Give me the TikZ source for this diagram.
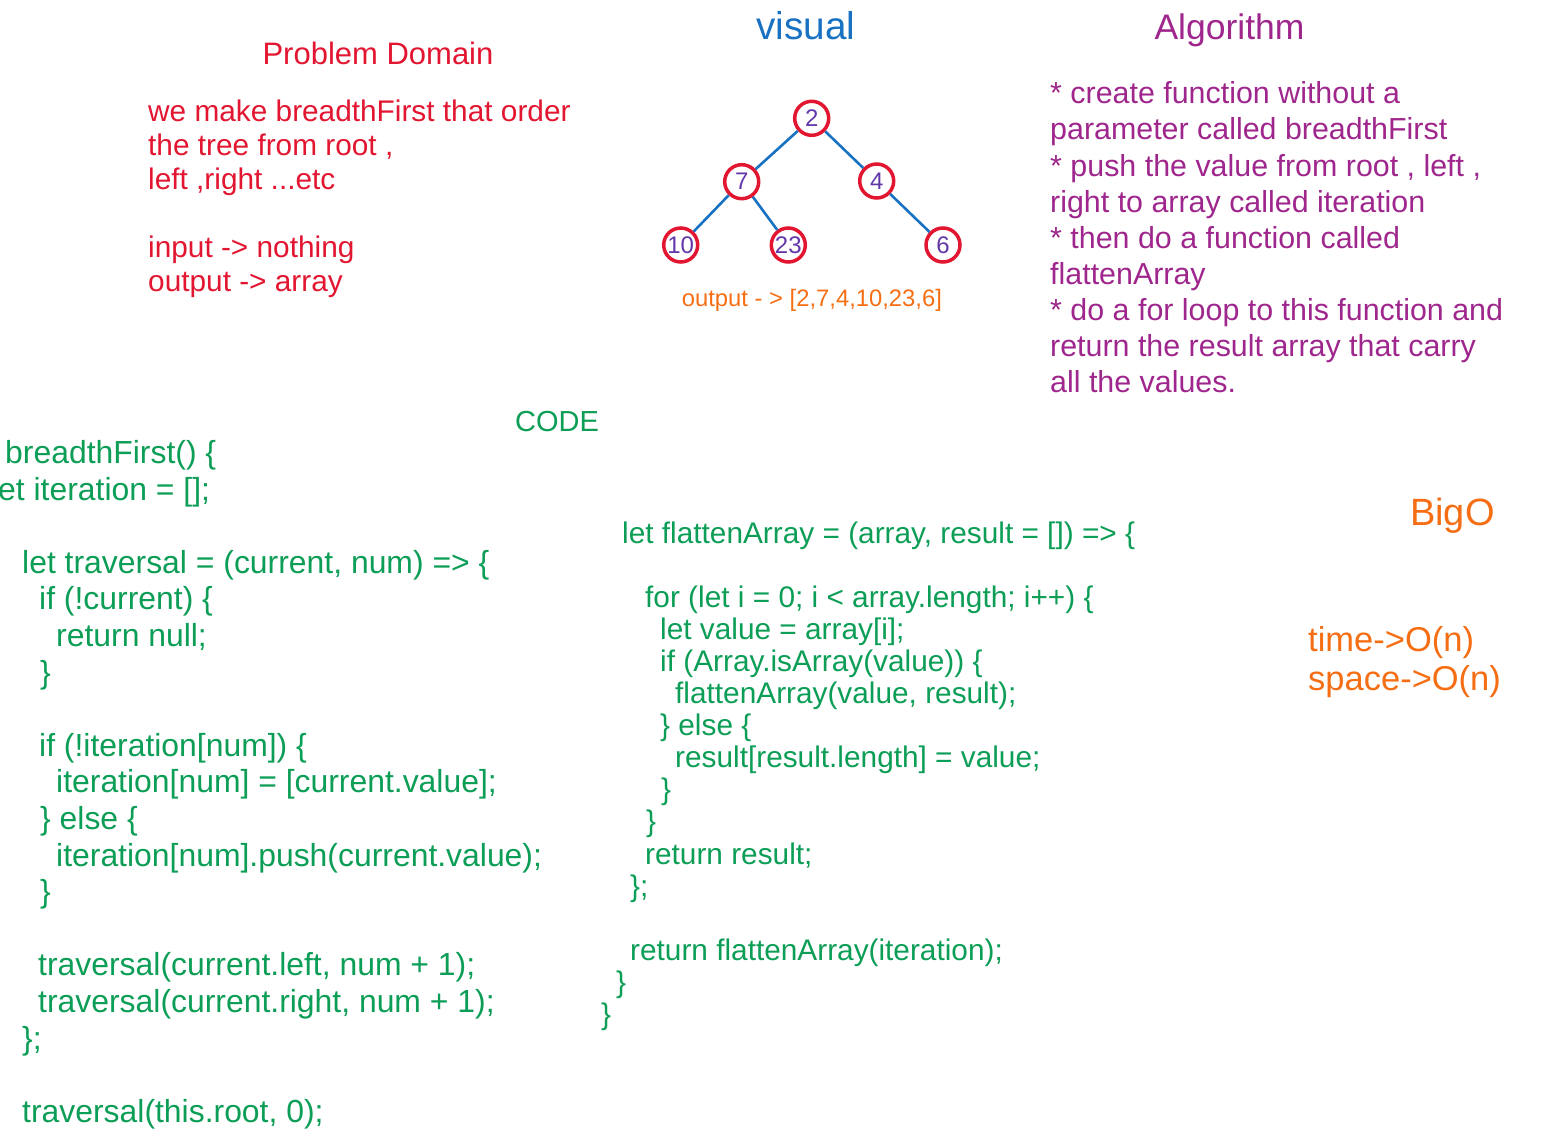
\documentclass[tikz,border=0pt]{standalone}
\usepackage{fontspec}
\setmainfont{Liberation Sans}
\definecolor{pdred}{RGB}{226,22,48}
\definecolor{visblue}{RGB}{25,113,194}
\definecolor{algpurple}{RGB}{158,38,140}
\definecolor{numviolet}{RGB}{98,55,170}
\definecolor{bigorange}{RGB}{245,110,20}
\definecolor{codegreen}{RGB}{12,158,86}
\begin{document}
\begin{tikzpicture}[x=1pt,y=-1pt,every node/.style={inner sep=0pt,anchor=base west},
	pd/.style={text=pdred,font=\fontsize{29.8}{34}\selectfont},
	alg/.style={text=algpurple,font=\fontsize{30.4}{36}\selectfont},
	lcode/.style={text=codegreen,font=\fontsize{31.9}{36}\selectfont},
	rcode/.style={text=codegreen,font=\fontsize{29.8}{33}\selectfont},
	big/.style={text=bigorange,font=\fontsize{34.5}{40}\selectfont},
	tnode/.style={anchor=center,circle,draw=pdred,line width=3.5pt,minimum size=34pt,text=numviolet,font=\fontsize{24}{26}\selectfont},
	edge/.style={visblue,line width=2.6pt}]
	\useasboundingbox (0,0) rectangle (1542,1145);
	%\draw[step=50,gray!20] (0,0) grid (1542,1145); %Hilfsgitter
	% Problem Domain
	\node[pd,font=\fontsize{31}{34}\selectfont,anchor=base] (pdtitle) at (378,65) {Problem Domain};
	\node[pd] (pd1) at (148,121.7) {we make breadthFirst that order};
	\node[pd] (pd2) at (148,155.7) {the tree from root ,};
	\node[pd] (pd3) at (148,189.7) {left ,right ...etc};
	\node[pd] (pd4) at (148,257.7) {input -> nothing};
	\node[pd] (pd5) at (148,291.7) {output -> array};
	% Visual
	\node[text=visblue,font=\fontsize{38.7}{40}\selectfont,anchor=base] (vistitle) at (806,40) {visual};
	\node[tnode] (n2) at (811.7,118.3) {2};
	\node[tnode] (n7) at (741.7,181.7) {7};
	\node[tnode] (n4) at (876.7,181) {4};
	\node[tnode] (n10) at (680.7,245) {10};
	\node[tnode] (n23) at (788.3,245) {23};
	\node[tnode] (n6) at (943,245) {6};
	\draw[edge] (n2) -- (n7) (n2) -- (n4) (n7) -- (n10) (n7) -- (n23) (n4) -- (n6);
	\node[text=bigorange,font=\fontsize{23.8}{26}\selectfont] (out) at (681.7,306.7) {output - > [2,7,4,10,23,6]};
	% Algorithm
	\node[text=algpurple,font=\fontsize{35.5}{40}\selectfont,anchor=base] (algtitle) at (1229.5,39.3) {Algorithm};
	\node[alg] (alg1) at (1050,104) {* create function without a};
	\node[alg] (alg2) at (1050,140) {parameter called breadthFirst};
	\node[alg] (alg3) at (1050,176) {* push the value from root , left ,};
	\node[alg] (alg4) at (1050,212) {right to array called iteration};
	\node[alg] (alg5) at (1050,248) {* then do a function called};
	\node[alg] (alg6) at (1050,284) {flattenArray};
	\node[alg] (alg7) at (1050,320) {* do a for loop to this function and};
	\node[alg] (alg8) at (1050,356) {return the result array that carry};
	\node[alg] (alg9) at (1050,392) {all the values.};
	% CODE
	\node[text=codegreen,font=\fontsize{29}{32}\selectfont,anchor=base] (codetitle) at (557,431.7) {CODE};
	\node[lcode] (l1) at (5,463.5) {breadthFirst() \{};
	\node[lcode] (l2) at (-2,500.1) {et iteration = [];};
	\node[lcode] (l3) at (22,573.3) {let traversal = (current, num) => \{};
	\node[lcode] (l4) at (39,609.9) {if (!current) \{};
	\node[lcode] (l5) at (56,646.5) {return null;};
	\node[lcode] (l6) at (40,683.1) {\}};
	\node[lcode] (l7) at (39,756.3) {if (!iteration[num]) \{};
	\node[lcode] (l8) at (56,792.9) {iteration[num] = [current.value];};
	\node[lcode] (l9) at (40,829.5) {\} else \{};
	\node[lcode] (l10) at (56,866.1) {iteration[num].push(current.value);};
	\node[lcode] (l11) at (40,902.7) {\}};
	\node[lcode] (l12) at (38,975.9) {traversal(current.left, num + 1);};
	\node[lcode] (l13) at (38,1012.5) {traversal(current.right, num + 1);};
	\node[lcode] (l14) at (22,1049.1) {\};};
	\node[lcode] (l15) at (22,1122.3) {traversal(this.root, 0);};
	\node[rcode] (r1) at (622,543) {let flattenArray = (array, result = []) => \{};
	\node[rcode] (r2) at (645,607.2) {for (let i = 0; i < array.length; i++) \{};
	\node[rcode] (r3) at (660,639.3) {let value = array[i];};
	\node[rcode] (r4) at (660,671.4) {if (Array.isArray(value)) \{};
	\node[rcode] (r5) at (675,703.5) {flattenArray(value, result);};
	\node[rcode] (r6) at (660,735.6) {\} else \{};
	\node[rcode] (r7) at (675,767.7) {result[result.length] = value;};
	\node[rcode] (r8) at (661,799.8) {\}};
	\node[rcode] (r9) at (646,831.9) {\}};
	\node[rcode] (r10) at (645,864) {return result;};
	\node[rcode] (r11) at (630,896.1) {\};};
	\node[rcode] (r12) at (630,960.3) {return flattenArray(iteration);};
	\node[rcode] (r13) at (616,992.4) {\}};
	\node[rcode] (r14) at (601,1024.5) {\}};
	% BigO
	\node[text=bigorange,font=\fontsize{38}{40}\selectfont] (bigo) at (1410,525) {BigO};
	\node[big] (time) at (1308,651.7) {time->O(n)};
	\node[big] (space) at (1308,690) {space->O(n)};
\end{tikzpicture}
\end{document}
